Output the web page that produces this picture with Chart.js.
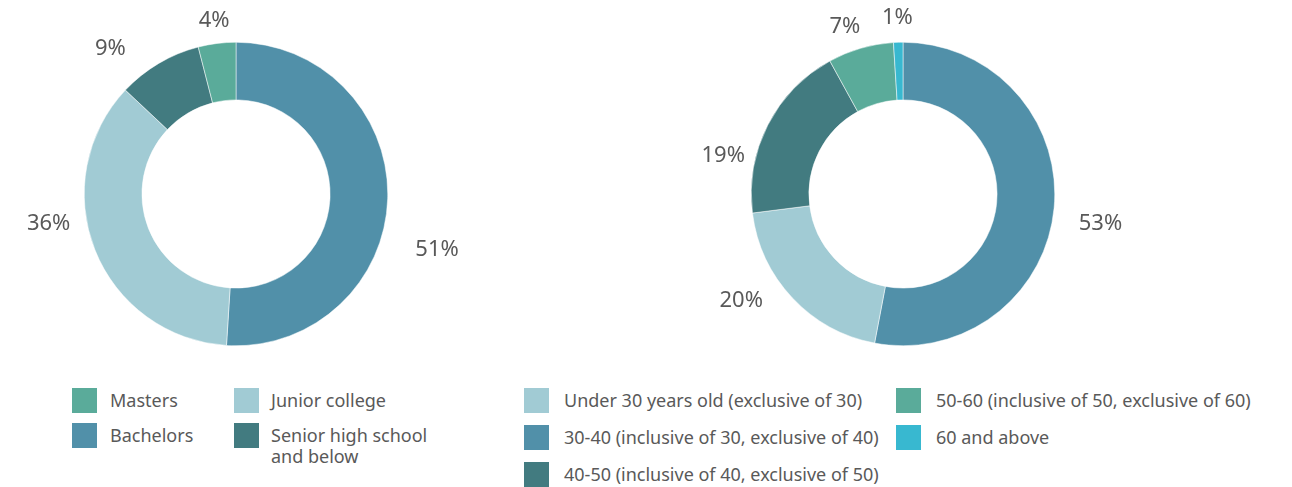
<!DOCTYPE html>
<html><head><meta charset="utf-8">
<script src="https://cdn.jsdelivr.net/npm/chart.js@4/dist/chart.umd.min.js"></script>
<style>
html,body{margin:0;padding:0;background:#fff;width:1292px;height:487px;overflow:hidden;font-family:"Noto Sans",sans-serif;}
.wrap{position:absolute;top:0;width:472px;height:388px;}
.lg{position:absolute;left:0;top:0;font-size:18px;color:#595959;}
.item{position:absolute;display:flex;align-items:flex-start;white-space:nowrap;}
.sw{width:25px;height:25px;flex:none;}
.tx{line-height:21px;margin-top:2px;}
</style></head>
<body>
<div class="wrap" style="left:0px"><canvas id="c1" width="472" height="388"></canvas></div>
<div class="wrap" style="left:667px"><canvas id="c2" width="472" height="388"></canvas></div>
<div class="lg" id="lg1"></div>
<div class="lg" id="lg2"></div>
<script>
// Education chart (clockwise from top)
const eduLabels = ["Bachelors", "Junior college", "Senior high school and below", "Masters"];
const eduValues = [51, 36, 9, 4];
const eduColors = ["#5190a9", "#a1cbd4", "#427b80", "#5aab9a"];
// Age chart (clockwise from top)
const ageLabels = ["30-40 (inclusive of 30, exclusive of 40)", "Under 30 years old (exclusive of 30)", "40-50 (inclusive of 40, exclusive of 50)", "50-60 (inclusive of 50, exclusive of 60)", "60 and above"];
const ageValues = [53, 20, 19, 7, 1];
const ageColors = ["#5190a9", "#a1cbd4", "#427b80", "#5aab9a", "#38b8d0"];

// label nudges: [angle deg clockwise, distance beyond outer radius]
const eduLabelShift = [[13.8, 57], [12.5, 38], [-10.3, 40], [0, 23]];
const ageLabelShift = [[3.2, 48], [9.8, 42], [-15.1, 32], [-3, 25], [0, 25]];

const outsideLabels = {
  id: 'outsideLabels',
  afterDatasetsDraw(chart, args, opts) {
    const ctx = chart.ctx;
    const meta = chart.getDatasetMeta(0);
    const ds = chart.data.datasets[0];
    ctx.save();
    ctx.font = '22px "Noto Sans"';
    ctx.fillStyle = '#595959';
    ctx.textAlign = 'center';
    ctx.textBaseline = 'middle';
    meta.data.forEach((arc, i) => {
      const p = arc.getProps(['x', 'y', 'startAngle', 'endAngle', 'outerRadius'], true);
      const s = opts.shifts[i] || [0, 30];
      const mid = (p.startAngle + p.endAngle) / 2 + s[0] * Math.PI / 180;
      const r = p.outerRadius + s[1];
      ctx.fillText(ds.data[i] + '%', p.x + Math.cos(mid) * r, p.y + Math.sin(mid) * r);
    });
    ctx.restore();
  }
};

function makeChart(id, labels, values, colors, shifts) {
  new Chart(document.getElementById(id), {
    type: 'doughnut',
    data: { labels: labels, datasets: [{ data: values, backgroundColor: colors, borderWidth: 0.5, borderColor: '#ffffff' }] },
    options: {
      responsive: false, animation: false, cutout: '62%',
      layout: { padding: { left: 84, right: 84, top: 42, bottom: 42 } },
      plugins: { legend: { display: false }, tooltip: { enabled: false }, outsideLabels: { shifts: shifts } }
    },
    plugins: [outsideLabels]
  });
}
makeChart('c1', eduLabels, eduValues, eduColors, eduLabelShift);
makeChart('c2', ageLabels, ageValues, ageColors, ageLabelShift);

function legend(el, items) {
  items.forEach(it => {
    const d = document.createElement('div');
    d.className = 'item';
    d.style.left = it.x + 'px'; d.style.top = it.y + 'px';
    const wrapStyle = it.w ? 'white-space:normal;width:' + it.w + 'px;' : '';
    d.innerHTML = '<div class="sw" style="background:' + it.c + '"></div><div class="tx" style="margin-left:' + it.gap + 'px;' + wrapStyle + '">' + it.t + '</div>';
    el.appendChild(d);
  });
}
legend(document.getElementById('lg1'), [
  { x: 72, y: 388, c: eduColors[3], t: eduLabels[3], gap: 13 },
  { x: 72, y: 423, c: eduColors[0], t: eduLabels[0], gap: 13 },
  { x: 234, y: 388, c: eduColors[1], t: eduLabels[1], gap: 12 },
  { x: 234, y: 423, c: eduColors[2], t: eduLabels[2], gap: 12, w: 180 }
]);
legend(document.getElementById('lg2'), [
  { x: 524, y: 388, c: ageColors[1], t: ageLabels[1], gap: 15 },
  { x: 524, y: 425, c: ageColors[0], t: ageLabels[0], gap: 15 },
  { x: 524, y: 462, c: ageColors[2], t: ageLabels[2], gap: 15 },
  { x: 896, y: 388, c: ageColors[3], t: ageLabels[3], gap: 15 },
  { x: 896, y: 425, c: ageColors[4], t: ageLabels[4], gap: 15 }
]);
</script>
</body></html>
